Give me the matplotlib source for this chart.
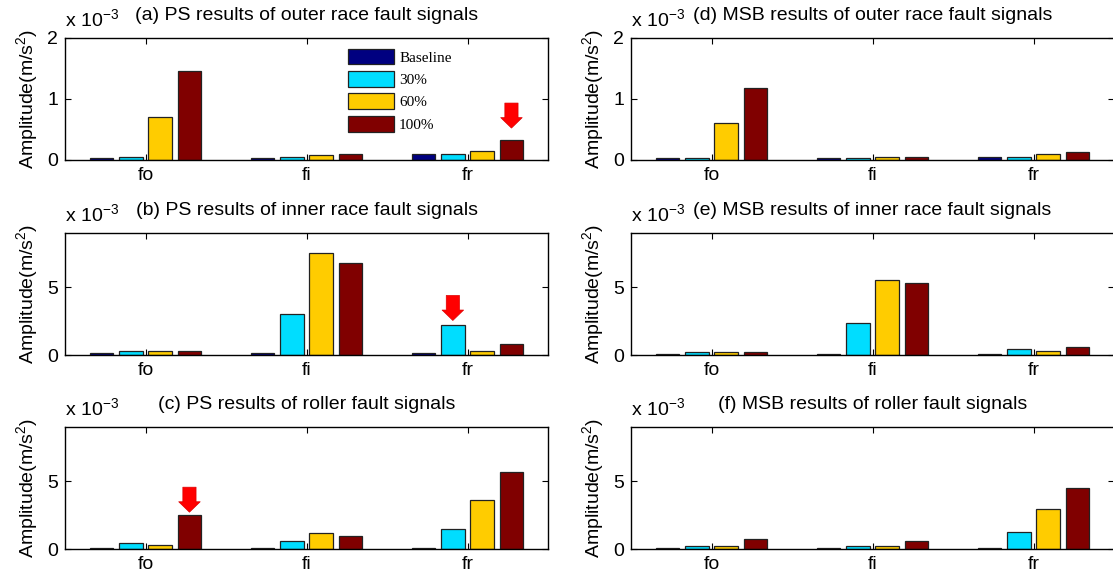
"""
Grouped bar panels: PS vs MSB results for outer race / inner race / roller faults.
"""
import numpy as np
import matplotlib
matplotlib.use('Agg')
import matplotlib.pyplot as plt
from matplotlib.patches import Patch

plt.rcParams['font.family'] = ['Liberation Sans', 'DejaVu Sans']
plt.rcParams['mathtext.default'] = 'regular'

# Data (amplitude x 1e-3 m/s^2), rows = fault frequencies fo, fi, fr
groups = ['fo', 'fi', 'fr']
levels = ['Baseline', '30%', '60%', '100%']
colors = ['#000080', '#00DDFF', '#FFCC00', '#800000']

ps_outer = [[0.03, 0.05, 0.71, 1.46],
            [0.03, 0.05, 0.08, 0.10],
            [0.10, 0.10, 0.15, 0.33]]
ps_inner = [[0.12, 0.32, 0.32, 0.32],
            [0.12, 3.05, 7.56, 6.78],
            [0.12, 2.24, 0.32, 0.78]]
ps_roller = [[0.10, 0.47, 0.32, 2.49],
             [0.10, 0.57, 1.16, 0.94],
             [0.10, 1.45, 3.65, 5.69]]
msb_outer = [[0.03, 0.03, 0.60, 1.18],
             [0.03, 0.03, 0.05, 0.05],
             [0.05, 0.05, 0.10, 0.13]]
msb_inner = [[0.08, 0.22, 0.22, 0.22],
             [0.08, 2.38, 5.54, 5.34],
             [0.08, 0.44, 0.32, 0.56]]
msb_roller = [[0.10, 0.22, 0.22, 0.71],
              [0.10, 0.22, 0.22, 0.56],
              [0.10, 1.25, 2.94, 4.51]]

titles = ['(a) PS results of outer race fault signals',
          '(b) PS results of inner race fault signals',
          '(c) PS results of roller fault signals',
          '(d) MSB results of outer race fault signals',
          '(e) MSB results of inner race fault signals',
          '(f) MSB results of roller fault signals']
panels = [ps_outer, ps_inner, ps_roller, msb_outer, msb_inner, msb_roller]
ylims = [2, 9, 9, 2, 9, 9]
yticks = [[0, 1, 2], [0, 5], [0, 5], [0, 1, 2], [0, 5], [0, 5]]

# red arrows: panel index -> (group, level, gap in points)
arrows = {0: (2, 3, 8.5), 1: (2, 1, 3.0), 2: (0, 3, 2.2)}

W, H = 1113, 574
fig = plt.figure(figsize=(W / 100, H / 100), dpi=100)

lefts = [65, 631]
tops = [38, 233, 427]
aw, ah = 483, 122

x = np.arange(1, len(groups) + 1)
step = 0.182
barw = 0.145
fs = 14

for i, (data, title) in enumerate(zip(panels, titles)):
    col, row = divmod(i, 3)
    ax = fig.add_axes([lefts[col] / W, 1 - (tops[row] + ah) / H, aw / W, ah / H])
    vals = np.array(data)
    for j, lev in enumerate(levels):
        ax.bar(x + (j - 1.5) * step, vals[:, j], width=barw, color=colors[j],
               edgecolor='#222222', linewidth=0.9, label=lev)

    ax.set_xlim(0.5, 3.5)
    ax.set_ylim(0, ylims[i])
    ax.set_xticks(x)
    ax.set_xticklabels(groups)
    ax.set_yticks(yticks[i])
    ax.tick_params(direction='in', top=True, right=True, length=4, width=0.8,
                   labelsize=fs, pad=5)
    for s in ax.spines.values():
        s.set_linewidth(1.0)
    ax.set_ylabel('Amplitude(m/s$^2$)', fontsize=fs, labelpad=5)
    ax.set_title(title, fontsize=fs, pad=13)
    ax.annotate('x 10$^{-3}$', xy=(0, 1), xycoords='axes fraction',
                xytext=(0, 6), textcoords='offset points',
                ha='left', va='bottom', fontsize=fs)

    if i in arrows:
        g, lv, gap = arrows[i]
        bx = x[g] + (lv - 1.5) * step
        ax.annotate('', xy=(bx, vals[g, lv]), xytext=(0, gap + 18),
                    textcoords='offset points',
                    arrowprops=dict(arrowstyle='simple,head_length=0.75,head_width=1.55,tail_width=0.95',
                                    mutation_scale=10, fc='#FF0000', ec='#DD0000',
                                    lw=0.5, shrinkA=0, shrinkB=gap))

    if i == 0:
        handles = [Patch(facecolor=c, edgecolor='#222222', linewidth=0.9) for c in colors]
        ax.legend(handles, levels, loc='upper left', bbox_to_anchor=(0.57, 0.975),
                  frameon=False, borderpad=0, handlelength=3.0, handleheight=1.2,
                  labelspacing=0.42, handletextpad=0.35,
                  prop={'family': ['Liberation Serif', 'DejaVu Serif'], 'size': 11})

fig.savefig('out.png', dpi=100)
